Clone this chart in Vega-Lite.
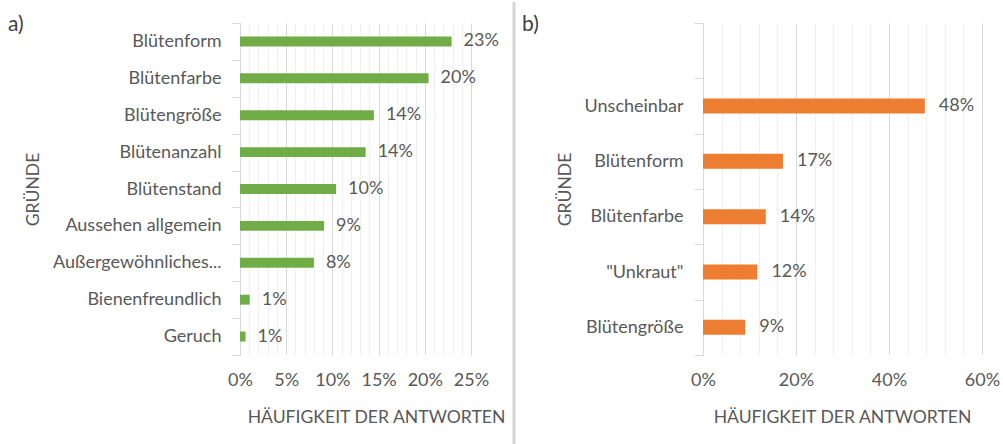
{
  "$schema": "https://vega.github.io/schema/vega-lite/v6.json",
  "autosize": {"type": "pad"},
  "padding": {"left": 8, "top": 0, "right": 5, "bottom": 0},
  "bounds": "flush",
  "spacing": 43,
  "background": "white",
  "config": {
    "view": {"stroke": null},
    "font": "Lato",
    "axis": {"labelFont": "Lato", "titleFont": "Lato", "labelColor": "#595959", "titleColor": "#595959", "titleFontWeight": "normal", "labelFontSize": 18, "titleFontSize": 17.6},
    "title": {"font": "Lato", "fontSize": 21, "fontWeight": "normal", "color": "#404040", "anchor": "start", "frame": "group", "offset": 0, "baseline": "alphabetic"}
  },
  "datasets": {
    "a": [
      {"reason": "Blütenform", "value": 0.229},
      {"reason": "Blütenfarbe", "value": 0.204},
      {"reason": "Blütengröße", "value": 0.1449},
      {"reason": "Blütenanzahl", "value": 0.136},
      {"reason": "Blütenstand", "value": 0.104},
      {"reason": "Aussehen allgemein", "value": 0.091},
      {"reason": "Außergewöhnliches...", "value": 0.08},
      {"reason": "Bienenfreundlich", "value": 0.0105},
      {"reason": "Geruch", "value": 0.006}
    ],
    "b": [
      {"reason": "Unscheinbar", "value": 0.477},
      {"reason": "Blütenform", "value": 0.172},
      {"reason": "Blütenfarbe", "value": 0.135},
      {"reason": "\"Unkraut\"", "value": 0.117},
      {"reason": "Blütengröße", "value": 0.091}
    ]
  },
  "hconcat": [
    {
      "width": 231,
      "height": 332,
      "title": {"text": "a)", "dx": -232, "dy": 25},
      "data": {"name": "a"},
      "encoding": {
        "y": {
          "field": "reason", "type": "nominal", "sort": null,
          "scale": {"paddingInner": 0, "paddingOuter": 0},
          "axis": {"title": "GRÜNDE", "tickBand": "extent", "tickSize": 8, "tickColor": "#d9d9d9", "domainColor": "#d9d9d9", "labelPadding": 11, "titlePadding": 10, "grid": false, "labelLimit": 300}
        },
        "x": {
          "field": "value", "type": "quantitative",
          "scale": {"domain": [0, 0.25], "nice": false},
          "axis": {
            "title": "HÄUFIGKEIT DER ANTWORTEN", "format": ".0%",
            "values": [0,0.01,0.02,0.03,0.04,0.05,0.06,0.07,0.08,0.09,0.1,0.11,0.12,0.13,0.14,0.15,0.16,0.17,0.18,0.19,0.2,0.21,0.22,0.23,0.24,0.25],
            "labelExpr": "round(datum.value*100) % 5 == 0 ? datum.label : ''",
            "gridColor": {"condition": {"test": "round(datum.value*100) % 5 == 0", "value": "#d9d9d9"}, "value": "#f0f0f0"},
            "ticks": false, "tickSize": 0, "domain": false, "labelPadding": 16, "labelOverlap": false, "labelFlush": false,
            "titleX": 136, "titleY": 67, "titleBaseline": "alphabetic"
          }
        }
      },
      "layer": [
        {"mark": {"type": "bar", "color": "#70ad47", "height": {"band": 0.27}}},
        {"mark": {"type": "text", "align": "left", "baseline": "middle", "dx": 12, "font": "Lato", "fontSize": 18, "color": "#595959"},
         "encoding": {"text": {"field": "value", "type": "quantitative", "format": ".0%"}}}
      ]
    },
    {
      "width": 146,
      "height": 332,
      "data": {"values": [{}]},
      "mark": {"type": "rule", "color": "#d6d6d6", "strokeWidth": 3},
      "encoding": {
        "x": {"datum": 0, "type": "quantitative", "scale": {"domain": [0, 1]}, "axis": null},
        "y": {"datum": 1.0633, "type": "quantitative", "scale": {"domain": [0, 1], "nice": false, "zero": false}, "axis": null},
        "y2": {"datum": -0.2741}
      }
    },
    {
      "width": 279,
      "height": 332,
      "title": {"text": "b)", "dx": -181, "dy": 25},
      "data": {"name": "b"},
      "encoding": {
        "y": {
          "field": "reason", "type": "nominal",
          "scale": {"domain": ["", "Unscheinbar", "Blütenform", "Blütenfarbe", "\"Unkraut\"", "Blütengröße"], "paddingInner": 0, "paddingOuter": 0},
          "axis": {"title": "GRÜNDE", "tickBand": "extent", "tickSize": 9, "tickColor": "#d9d9d9", "domainColor": "#d9d9d9", "labelPadding": 11, "titlePadding": 10, "grid": false}
        },
        "x": {
          "field": "value", "type": "quantitative",
          "scale": {"domain": [0, 0.6], "nice": false},
          "axis": {
            "title": "HÄUFIGKEIT DER ANTWORTEN", "format": ".0%",
            "values": [0,0.04,0.08,0.12,0.16,0.2,0.24,0.28,0.32,0.36,0.4,0.44,0.48,0.52,0.56,0.6],
            "labelExpr": "round(datum.value*100) % 20 == 0 ? datum.label : ''",
            "gridColor": {"condition": {"test": "round(datum.value*100) % 20 == 0", "value": "#d9d9d9"}, "value": "#f0f0f0"},
            "ticks": false, "tickSize": 0, "domain": false, "labelPadding": 16, "labelOverlap": false, "labelFlush": false,
            "titleX": 139, "titleY": 67, "titleBaseline": "alphabetic"
          }
        }
      },
      "layer": [
        {"mark": {"type": "bar", "color": "#ed7d31", "height": {"band": 0.27}}},
        {"mark": {"type": "text", "align": "left", "baseline": "middle", "dx": 14, "font": "Lato", "fontSize": 18, "color": "#595959"},
         "encoding": {"text": {"field": "value", "type": "quantitative", "format": ".0%"}}}
      ]
    }
  ]
}
